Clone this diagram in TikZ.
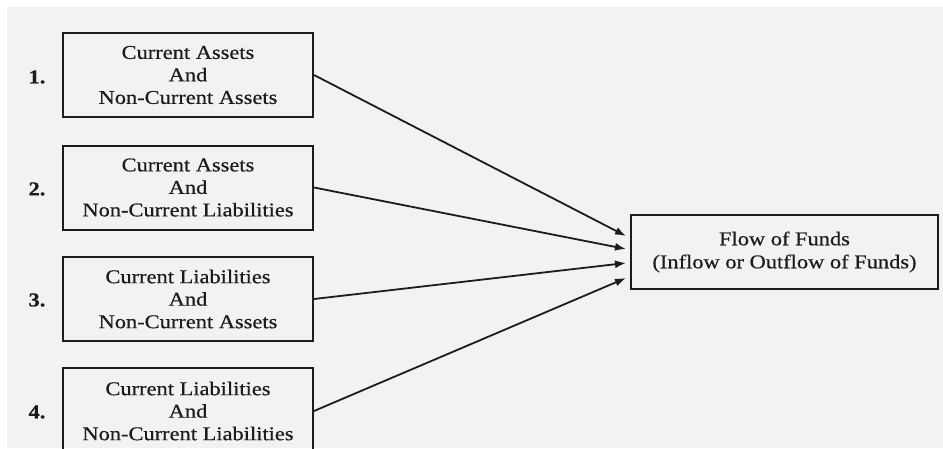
\documentclass[tikz,border=0pt]{standalone}
\usepackage{fontspec}
\setmainfont{Liberation Serif}[FakeStretch=1.15,FakeBold=0.6]
\usetikzlibrary{arrows.meta,calc}
\definecolor{paper}{RGB}{242,242,242}
\definecolor{ink}{RGB}{28,28,28}
\begin{document}
\begin{tikzpicture}[x=1pt,y=-1pt,
  every node/.style={text=ink},
  pairbox/.style={draw=ink,line width=2pt,minimum width=250pt,minimum height=84pt,
    align=center,inner sep=0pt,font=\fontsize{19.5}{22.5}\selectfont},
  flowbox/.style={draw=ink,line width=2pt,minimum width=307pt,minimum height=74pt,
    align=center,inner sep=0pt,font=\fontsize{19.5}{23}\selectfont},
  numlabel/.style={font=\fontsize{19.5}{22.5}\selectfont\bfseries},
  link/.style={draw=ink,line width=1.8pt,-{Latex[length=11pt,width=8pt]}}]
  % page and paper
  \fill[white] (0,0) rectangle (943,448);
  \fill[paper] (7,7) rectangle (943,448);
  \useasboundingbox (0,0) rectangle (943,448);

  % four source boxes
  \node[pairbox] (b1) at (188,75) {Current Assets\\And\\Non-Current Assets};
  \node[pairbox] (b2) at (188,187.5) {Current Assets\\And\\Non-Current Liabilities};
  \node[pairbox] (b3) at (188,299) {Current Liabilities\\And\\Non-Current Assets};
  \node[pairbox,minimum height=86pt] (b4) at (188,411) {Current Liabilities\\And\\Non-Current Liabilities};

  % numbering
  \node[numlabel] (n1) at (37,77) {1.};
  \node[numlabel] (n2) at (37,189) {2.};
  \node[numlabel] (n3) at (37,300) {3.};
  \node[numlabel] (n4) at (37,412) {4.};

  % target box
  \node[flowbox] (flow) at (784.5,252) {Flow of Funds\\(Inflow or Outflow of Funds)};

  % arrow tips just left of the target box
  \coordinate (t1) at ($(flow.west)+(-4,-16)$);
  \coordinate (t2) at ($(flow.west)+(-4,-3)$);
  \coordinate (t3) at ($(flow.west)+(-4,11)$);
  \coordinate (t4) at ($(flow.west)+(-4,26)$);

  \draw[link] (b1.east) -- (t1);
  \draw[link] (b2.east) -- (t2);
  \draw[link] (b3.east) -- (t3);
  \draw[link] (b4.east) -- (t4);
\end{tikzpicture}
\end{document}
